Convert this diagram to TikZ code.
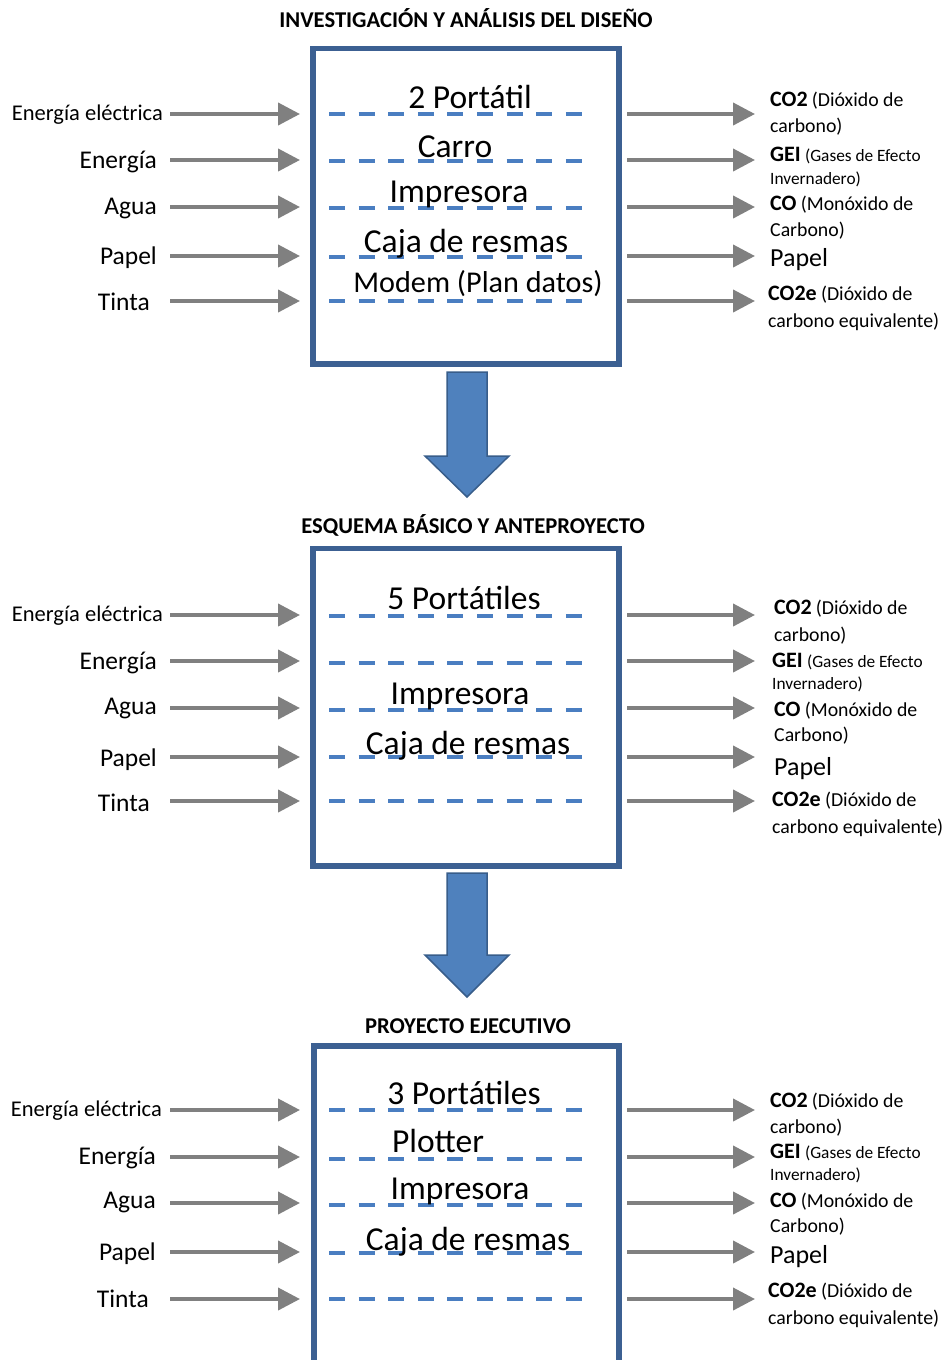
\documentclass[tikz,border=0pt]{standalone}
\usepackage{fontspec}
\setmainfont{Carlito}
\usetikzlibrary{arrows.meta}
\definecolor{boxblue}{RGB}{60,96,146}
\definecolor{dashblue}{RGB}{74,126,193}
\definecolor{flowgray}{RGB}{128,128,128}
\definecolor{bigfill}{RGB}{79,129,189}
\definecolor{bigedge}{RGB}{56,93,138}
% text helpers for the output labels
\newcommand\gasname[1]{{\bfseries\fontsize{22}{22}\selectfont #1}\hspace{2pt}}
\newcommand\gasnote[1]{{\fontsize{19.8}{19.8}\selectfont #1}}
\newcommand\gassmall[1]{{\fontsize{17.3}{17.3}\selectfont #1}}
\begin{document}
\begin{tikzpicture}[x=1pt,y=-1pt,
  stagebox/.style={draw=boxblue,line width=5.5pt},
  sepline/.style={draw=dashblue,line width=4pt,dash pattern=on 16pt off 13.6pt},
  flow/.style={draw=flowgray,line width=4pt,-{Triangle[length=22pt,width=22pt]}},
  bigarrow/.style={fill=bigfill,draw=bigedge,line width=1.5pt,line join=miter},
  title/.style={inner sep=0pt,anchor=base,font=\bfseries\fontsize{22.6}{22.6}\selectfont},
  item/.style={inner sep=0pt,anchor=base,font=\fontsize{33.5}{33.5}\selectfont},
  itemnarrow/.style={inner sep=0pt,anchor=base,font=\fontsize{30.2}{30.2}\selectfont},
  inlbl/.style={inner sep=0pt,anchor=base east,font=\fontsize{25.5}{25.5}\selectfont},
  inlblsmall/.style={inner sep=0pt,anchor=base east,font=\fontsize{22.5}{22.5}\selectfont},
  outlbl/.style={inner sep=0pt,anchor=base west},
  outpaper/.style={inner sep=0pt,anchor=base west,font=\fontsize{26}{26}\selectfont}]
\useasboundingbox (0,0) rectangle (945,1360);
\clip (0,0) rectangle (945,1360);

% ---------------- Stage 1 ----------------
\node[title] (t1) at (466,27) {INVESTIGACIÓN Y ANÁLISIS DEL DISEÑO};
\draw[stagebox] (313,48.5) rectangle (619,364);
\foreach \y [count=\i] in {114,161,208,257,301}{
  \coordinate (d1a\i) at (329,\y); \coordinate (d1b\i) at (585,\y);
  \draw[sepline] (d1a\i) -- (d1b\i);}
\node[item] (i1a) at (470,108) {2 Portátil};
\node[item] (i1b) at (455,157) {Carro};
\node[item] (i1c) at (459,202) {Impresora};
\node[item] (i1d) at (466,252) {Caja de resmas};
\node[itemnarrow] (i1e) at (478,292) {Modem (Plan datos)};
\foreach \y [count=\i] in {114,160,207,256,301}{
  \coordinate (l1s\i) at (170,\y); \coordinate (l1e\i) at (300,\y);
  \draw[flow] (l1s\i) -- (l1e\i);
  \coordinate (r1s\i) at (627,\y); \coordinate (r1e\i) at (755,\y);
  \draw[flow] (r1s\i) -- (r1e\i);}
\node[inlblsmall] (a1) at (163,120) {Energía eléctrica};
\node[inlbl] (b1) at (157,168) {Energía};
\node[inlbl] (c1) at (157,214) {Agua};
\node[inlbl] (e1) at (157,264) {Papel};
\node[inlbl] (f1) at (150,310) {Tinta};
\node[outlbl] (o1a) at (770,106) {\gasname{CO2} \gasnote{(Dióxido de}};
\node[outlbl] (o1b) at (770,132) {\gasnote{carbono)}};
\node[outlbl] (o1c) at (770,161) {\gasname{GEI} \gassmall{(Gases de Efecto}};
\node[outlbl] (o1d) at (770,184) {\gassmall{Invernadero)}};
\node[outlbl] (o1e) at (770,210) {\gasname{CO} \gasnote{(Monóxido de}};
\node[outlbl] (o1f) at (770,236) {\gasnote{Carbono)}};
\node[outpaper] (o1g) at (770,266) {Papel};
\node[outlbl] (o1h) at (768,300) {\gasname{CO2e} \gasnote{(Dióxido de}};
\node[outlbl] (o1i) at (768,327) {\gasnote{carbono equivalente)}};

% arrow to stage 2
\draw[bigarrow] (447,372) -- (487,372) -- (487,456) -- (509,456) -- (467,497)
  -- (425,456) -- (447,456) -- cycle;

% ---------------- Stage 2 ----------------
\node[title] (t2) at (473,533) {ESQUEMA BÁSICO Y ANTEPROYECTO};
\draw[stagebox] (313,548.5) rectangle (619,866);
\foreach \y [count=\i] in {616,663,710,757,801}{
  \coordinate (d2a\i) at (329,\y); \coordinate (d2b\i) at (585,\y);
  \draw[sepline] (d2a\i) -- (d2b\i);}
\node[item] (i2a) at (464,609) {5 Portátiles};
\node[item] (i2c) at (460,704) {Impresora};
\node[item] (i2d) at (468,754) {Caja de resmas};
\foreach \y [count=\i] in {615,661,708,757,801}{
  \coordinate (l2s\i) at (170,\y); \coordinate (l2e\i) at (300,\y);
  \draw[flow] (l2s\i) -- (l2e\i);
  \coordinate (r2s\i) at (627,\y); \coordinate (r2e\i) at (755,\y);
  \draw[flow] (r2s\i) -- (r2e\i);}
\node[inlblsmall] (a2) at (163,621) {Energía eléctrica};
\node[inlbl] (b2) at (157,669) {Energía};
\node[inlbl] (c2) at (157,714) {Agua};
\node[inlbl] (e2) at (157,766) {Papel};
\node[inlbl] (f2) at (150,811) {Tinta};
\node[outlbl] (o2a) at (774,614) {\gasname{CO2} \gasnote{(Dióxido de}};
\node[outlbl] (o2b) at (774,641) {\gasnote{carbono)}};
\node[outlbl] (o2c) at (772,667) {\gasname{GEI} \gassmall{(Gases de Efecto}};
\node[outlbl] (o2d) at (772,689) {\gassmall{Invernadero)}};
\node[outlbl] (o2e) at (774,716) {\gasname{CO} \gasnote{(Monóxido de}};
\node[outlbl] (o2f) at (774,741) {\gasnote{Carbono)}};
\node[outpaper] (o2g) at (774,775) {Papel};
\node[outlbl] (o2h) at (772,806) {\gasname{CO2e} \gasnote{(Dióxido de}};
\node[outlbl] (o2i) at (772,833) {\gasnote{carbono equivalente)}};

% arrow to stage 3
\draw[bigarrow] (447,873) -- (487,873) -- (487,955) -- (509,955) -- (467,997)
  -- (425,955) -- (447,955) -- cycle;

% ---------------- Stage 3 ----------------
\node[title] (t3) at (468,1033) {PROYECTO EJECUTIVO};
\draw[stagebox] (314,1046) rectangle (619,1420);
\foreach \y [count=\i] in {1110,1159,1205,1253,1299}{
  \coordinate (d3a\i) at (329,\y); \coordinate (d3b\i) at (585,\y);
  \draw[sepline] (d3a\i) -- (d3b\i);}
\node[item] (i3a) at (464,1104) {3 Portátiles};
\node[item] (i3b) at (438,1152) {Plotter};
\node[item] (i3c) at (460,1199) {Impresora};
\node[item] (i3d) at (468,1250) {Caja de resmas};
\foreach \y [count=\i] in {1110,1157,1203,1252,1299}{
  \coordinate (l3s\i) at (170,\y); \coordinate (l3e\i) at (300,\y);
  \draw[flow] (l3s\i) -- (l3e\i);
  \coordinate (r3s\i) at (627,\y); \coordinate (r3e\i) at (755,\y);
  \draw[flow] (r3s\i) -- (r3e\i);}
\node[inlblsmall] (a3) at (162,1116) {Energía eléctrica};
\node[inlbl] (b3) at (156,1164) {Energía};
\node[inlbl] (c3) at (156,1208) {Agua};
\node[inlbl] (e3) at (156,1260) {Papel};
\node[inlbl] (f3) at (149,1307) {Tinta};
\node[outlbl] (o3a) at (770,1107) {\gasname{CO2} \gasnote{(Dióxido de}};
\node[outlbl] (o3b) at (770,1133) {\gasnote{carbono)}};
\node[outlbl] (o3c) at (770,1158) {\gasname{GEI} \gassmall{(Gases de Efecto}};
\node[outlbl] (o3d) at (770,1180) {\gassmall{Invernadero)}};
\node[outlbl] (o3e) at (770,1207) {\gasname{CO} \gasnote{(Monóxido de}};
\node[outlbl] (o3f) at (770,1232) {\gasnote{Carbono)}};
\node[outpaper] (o3g) at (770,1263) {Papel};
\node[outlbl] (o3h) at (768,1297) {\gasname{CO2e} \gasnote{(Dióxido de}};
\node[outlbl] (o3i) at (768,1324) {\gasnote{carbono equivalente)}};
\end{tikzpicture}
\end{document}
